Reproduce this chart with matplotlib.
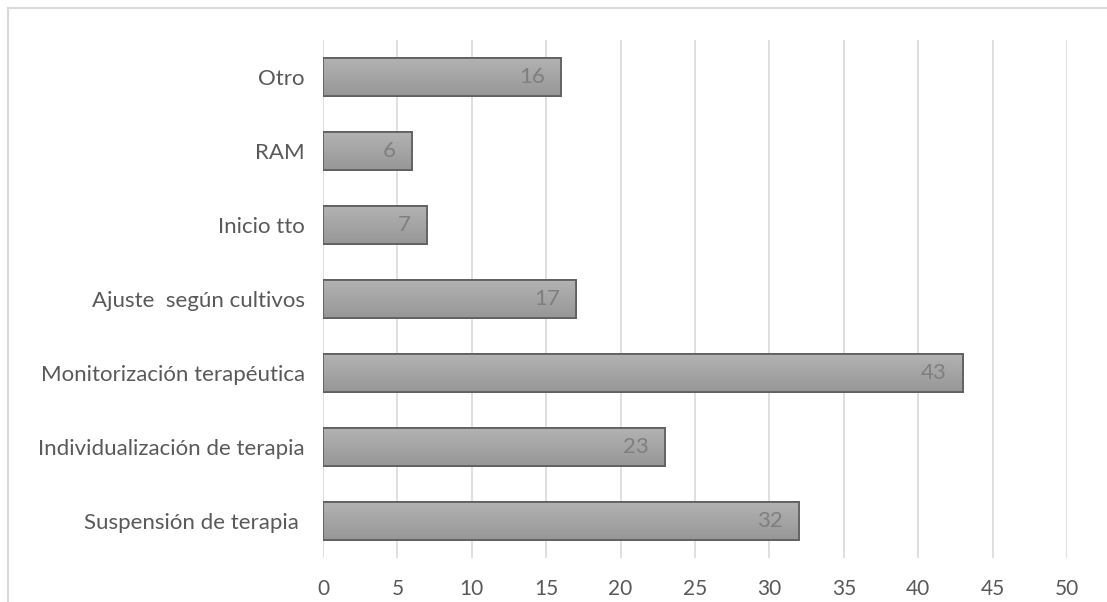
import numpy as np
import matplotlib
matplotlib.use('Agg')
import matplotlib.pyplot as plt
from matplotlib.patches import Rectangle

categories = ['Suspensión de terapia ', 'Individualización de terapia', 'Monitorización terapéutica',
              'Ajuste  según cultivos', 'Inicio tto', 'RAM', 'Otro']
values = [32, 23, 43, 17, 7, 6, 16]
xticks = list(range(0, 55, 5))

plt.rcParams['font.family'] = ['Lato', 'DejaVu Sans']

fig = plt.figure(figsize=(11.07, 6.02), dpi=100)
ax = fig.add_axes([323 / 1107, 1 - 558 / 602, (1067 - 323) / 1107, (558 - 40) / 602])

y = np.arange(len(categories))
bars = ax.barh(y, values, height=0.51, color='#a6a6a6', edgecolor='#606060', linewidth=1.3, zorder=3)

# vertical gradient in each bar (lighter on top)
grad = np.linspace(0, 1, 64).reshape(-1, 1)
cmap = matplotlib.colors.LinearSegmentedColormap.from_list('g', ['#b2b2b2', '#979797'])
for b in bars:
    x0, y0 = b.get_x(), b.get_y()
    w, h = b.get_width(), b.get_height()
    im = ax.imshow(grad, cmap=cmap, aspect='auto', extent=[x0, x0 + w, y0, y0 + h],
                   origin='upper', zorder=3.5)
    im.set_clip_path(b)
    ax.add_patch(Rectangle((x0, y0), w, h, fill=False, edgecolor='#606060', linewidth=1.3, zorder=4))

for yi, v in zip(y, values):
    ax.text(v - 1.1, yi, str(v), ha='right', va='center', color='#7f7f7f', fontsize=16, zorder=5)

ax.set_xlim(0, 50)
ax.set_ylim(-0.5, len(categories) - 0.5)
ax.set_xticks(xticks)
ax.set_yticks(y)
ax.set_yticklabels(categories, fontsize=16)
ax.tick_params(axis='both', length=0, colors='#595959')
ax.tick_params(axis='x', pad=15, labelsize=15)
ax.tick_params(axis='y', pad=13)
ax.grid(axis='x', color='#d9d9d9', linewidth=1.2, zorder=0)
for s in ax.spines.values():
    s.set_visible(False)

# chart border (top and left visible)
fig.add_artist(plt.Line2D([8 / 1107, 1], [1 - 8 / 602, 1 - 8 / 602], color='#d9d9d9', linewidth=1.5))
fig.add_artist(plt.Line2D([8 / 1107, 8 / 1107], [0, 1 - 8 / 602], color='#d9d9d9', linewidth=1.5))

fig.savefig('out.png', dpi=100)
